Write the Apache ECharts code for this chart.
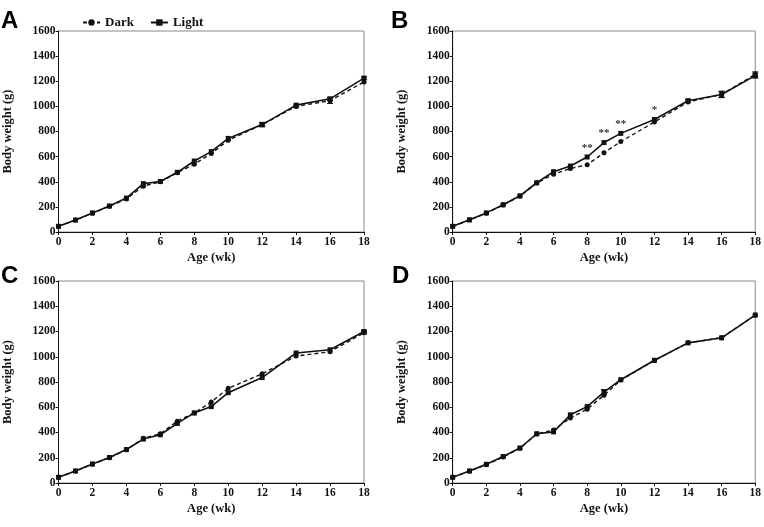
<!DOCTYPE html>
<html><head><meta charset="utf-8">
<script src="https://cdn.jsdelivr.net/npm/echarts@6/dist/echarts.min.js"></script>
<style>html,body{margin:0;padding:0;background:#fff}#c{width:764px;height:527px}</style>
</head><body><div id="c"></div>
<script>
const weeks = [0,1,2,3,4,5,6,7,8,9,10,12,14,16,18];
const yTicks = [0,200,400,600,800,1000,1200,1400,1600];
const xTicks = [0,2,4,6,8,10,12,14,16,18];

const darkA  = [45,95,150,205,263,365,400,472,540,625,730,855,1000,1045,1195];
const lightA = [45,95,152,207,270,385,402,475,565,640,745,855,1010,1060,1225];
const darkB  = [45,95,150,215,285,390,460,505,535,630,720,875,1035,1095,1255];
const lightB = [45,97,152,217,288,392,480,525,597,712,785,895,1045,1095,1245];
const darkC  = [45,95,150,200,263,355,390,490,555,642,750,865,1005,1040,1190];
const lightC = [45,95,150,202,265,348,382,472,555,605,715,835,1030,1055,1200];
const darkD  = [45,95,145,205,275,388,420,515,585,695,815,970,1110,1150,1330];
const lightD = [45,95,148,210,277,390,405,540,605,720,818,972,1110,1150,1330];

const errDarkA  = [0,0,0,0,0,0,0,0,0,0,0,12,10,22,0];
const errLightA = [0,0,0,0,0,0,0,0,0,0,0,18,0,12,10];
const errDarkB  = [0,0,0,0,0,0,0,0,0,0,0,0,0,25,20];
const errLightB = [0,0,0,0,0,0,0,0,0,0,0,0,12,25,20];
const errDarkC  = [0,0,0,0,0,0,0,0,0,0,0,0,0,0,10];
const errLightC = [0,0,0,0,0,0,0,0,0,0,0,0,0,0,10];
const errDarkD  = [0,0,0,0,0,0,0,0,0,0,0,0,0,0,0];
const errLightD = [0,0,0,0,0,0,0,0,0,20,0,0,0,0,0];

const sigB = ['','','','','','','','','**','**','**','*','','',''];

const panels = [
  {dark: darkA, light: lightA, eD: errDarkA, eL: errLightA, sig: null},
  {dark: darkB, light: lightB, eD: errDarkB, eL: errLightB, sig: sigB},
  {dark: darkC, light: lightC, eD: errDarkC, eL: errLightC, sig: null},
  {dark: darkD, light: lightD, eD: errDarkD, eL: errLightD, sig: null}
];

const serif = '"Liberation Serif","Times New Roman",serif';
const grids = [
  {left: 58.5, top: 31, width: 305.5, height: 201},
  {left: 452.7, top: 31, width: 304.6, height: 201},
  {left: 58.5, top: 281, width: 305.5, height: 202},
  {left: 452.7, top: 281, width: 304.6, height: 202}
].map(g => Object.assign(g, {show: true, borderColor: '#8a8a8a', borderWidth: 1, containLabel: false}));

const xAxes = grids.map((g, i) => ({
  type: 'value', gridIndex: i, min: 0, max: 18, interval: 2,
  name: 'Age (wk)', nameLocation: 'middle', nameGap: 19,
  nameTextStyle: {fontFamily: serif, fontWeight: 'bold', fontSize: 12.5, color: '#111'},
  axisLine: {show: true, lineStyle: {color: '#111', width: 1}},
  axisTick: {show: true, inside: false, length: 3, lineStyle: {color: '#111'}},
  axisLabel: {fontFamily: serif, fontWeight: 'bold', fontSize: 11.5, color: '#111', margin: 4,
    formatter: v => String(v)},
  splitLine: {show: false}
}));
const yAxes = grids.map((g, i) => ({
  type: 'value', gridIndex: i, min: 0, max: 1600, interval: 200,
  name: 'Body weight (g)', nameLocation: 'middle', nameGap: 44, nameRotate: 90,
  nameTextStyle: {fontFamily: serif, fontWeight: 'bold', fontSize: 12.5, color: '#111'},
  axisLine: {show: true, lineStyle: {color: '#111', width: 1}},
  axisTick: {show: true, inside: false, length: 3, lineStyle: {color: '#111'}},
  axisLabel: {fontFamily: serif, fontWeight: 'bold', fontSize: 11.5, color: '#111', margin: 3,
    formatter: v => String(v)},
  splitLine: {show: false}
}));

function errSeries(vals, errs, i) {
  return {
    type: 'custom', xAxisIndex: i, yAxisIndex: i, silent: true, z: 1,
    data: weeks.map((w, k) => [w, vals[k] - errs[k], vals[k] + errs[k], errs[k]]),
    renderItem: function (params, api) {
      if (api.value(3) <= 0) return null;
      const lo = api.coord([api.value(0), api.value(1)]);
      const hi = api.coord([api.value(0), api.value(2)]);
      const st = {stroke: '#111', lineWidth: 1};
      return {type: 'group', children: [
        {type: 'line', shape: {x1: lo[0], y1: lo[1], x2: hi[0], y2: hi[1]}, style: st},
        {type: 'line', shape: {x1: lo[0]-3, y1: lo[1], x2: lo[0]+3, y2: lo[1]}, style: st},
        {type: 'line', shape: {x1: hi[0]-3, y1: hi[1], x2: hi[0]+3, y2: hi[1]}, style: st}
      ]};
    }
  };
}

const series = [];
panels.forEach((p, i) => {
  series.push({
    name: 'Dark', type: 'line', xAxisIndex: i, yAxisIndex: i,
    data: weeks.map((w, k) => [w, p.dark[k]]),
    symbol: 'circle', symbolSize: 5,
    lineStyle: {color: '#111', width: 1.4, type: [4, 3]},
    itemStyle: {color: '#111'}, z: 3
  });
  series.push({
    name: 'Light', type: 'line', xAxisIndex: i, yAxisIndex: i,
    data: weeks.map((w, k) => {
      const item = {value: [w, p.light[k]]};
      if (p.sig && p.sig[k]) {
        item.label = {show: true, formatter: p.sig[k], position: 'top', distance: 1,
          fontFamily: serif, fontWeight: 'bold', fontSize: 11, color: '#333'};
      }
      return item;
    }),
    symbol: 'rect', symbolSize: 5,
    lineStyle: {color: '#111', width: 1.6, type: 'solid'},
    itemStyle: {color: '#111'}, z: 4
  });
  series.push(errSeries(p.dark, p.eD, i));
  series.push(errSeries(p.light, p.eL, i));
});

const letters = [
  {letter: 'A', x: 1, y: 9},
  {letter: 'B', x: 391, y: 9},
  {letter: 'C', x: 1, y: 264},
  {letter: 'D', x: 392, y: 264}
];

const chart = echarts.init(document.getElementById('c'), null, {renderer: 'canvas'});
chart.setOption({
  animation: false,
  backgroundColor: '#fff',
  grid: grids, xAxis: xAxes, yAxis: yAxes, series: series,
  legend: {
    data: ['Dark', 'Light'], left: 77, top: 11, itemWidth: 17, itemHeight: 8, itemGap: 16,
    textStyle: {fontFamily: serif, fontWeight: 'bold', fontSize: 13, color: '#111'}
  },
  graphic: letters.map(l => ({
    type: 'text', left: l.x, top: l.y,
    style: {text: l.letter, font: 'bold 24px "Liberation Sans", Arial, sans-serif', fill: '#000'}
  }))
});
</script></body></html>
